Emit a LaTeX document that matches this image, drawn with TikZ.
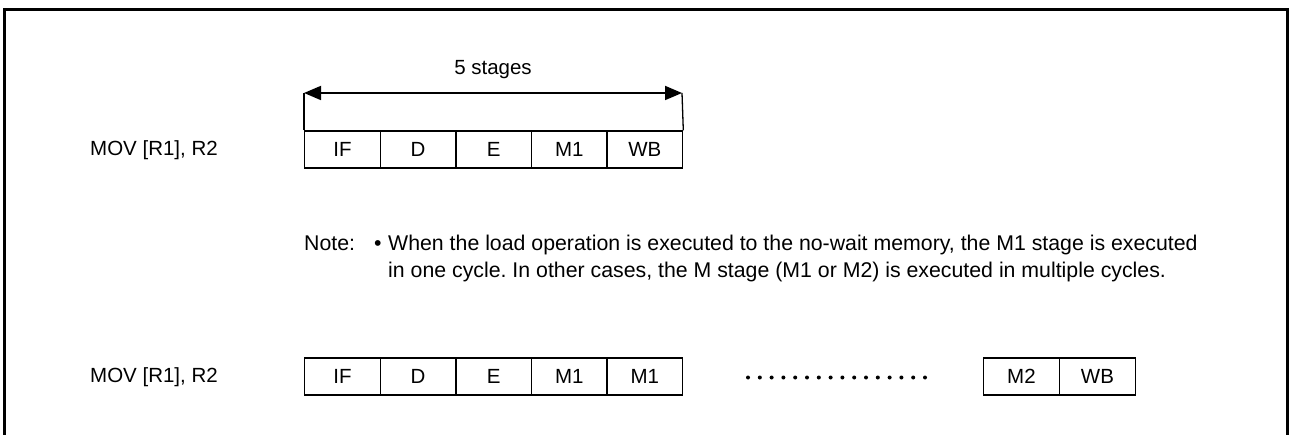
\documentclass[tikz,border=0pt]{standalone}
\usepackage{fontspec}
\setmainfont{Liberation Sans}
\usetikzlibrary{arrows.meta}
\frenchspacing
\begin{document}
\begin{tikzpicture}[x=1pt, y=-1pt,
		stage/.style={draw, line width=1.3pt, minimum width=75.6pt, minimum height=37pt,
			inner sep=0pt, anchor=west, font=\fontsize{20.5}{24}\selectfont},
		txt/.style={inner sep=0pt, font=\fontsize{20.5}{24}\selectfont},
		notetxt/.style={inner sep=0pt, anchor=base west, font=\fontsize{21.3}{25}\selectfont}]
	\useasboundingbox (0,0) rectangle (1289,435);
	\draw[line width=3pt] (4,435) -- (4,10) -- (1287,10) -- (1287,435);
	
	% upper pipeline
	\node[txt, anchor=west] (movA) at (90,150) {MOV [R1], R2};
	\foreach \n/\t [count=\i from 0] in {ifA/IF, dA/D, eA/E, mA/M1, wbA/WB}
		\node[stage] (\n) at (304+75.6*\i, 149.5) {\t};
	\coordinate (arrL) at (304,93);
	\coordinate (arrR) at (682,93);
	\draw[line width=1.3pt] (ifA.north west) -- (arrL);
	\draw[line width=1.3pt] (wbA.north east) -- (arrR);
	\draw[line width=1.8pt, {Triangle[length=17pt,width=14pt]}-{Triangle[length=17pt,width=14pt]}]
		(arrL) -- (arrR);
	\node[txt] (stages) at (493,70) {5 stages};
	
	% note
	\node[notetxt] (note) at (304,251) {Note:};
	\node[notetxt] (bul) at (374,251) {\textbullet};
	\node[notetxt] (lineA) at (388,251)
		{When the load operation is executed to the no-wait memory, the M1 stage is executed};
	\node[notetxt] (lineB) at (388,278)
		{in one cycle. In other cases, the M stage (M1 or M2) is executed in multiple cycles.};
	
	% lower pipeline
	\node[txt, anchor=west] (movB) at (90,377) {MOV [R1], R2};
	\foreach \n/\t [count=\i from 0] in {ifB/IF, dB/D, eB/E, mB/M1, mmB/M1}
		\node[stage] (\n) at (304+75.6*\i, 376.5) {\t};
	\foreach \k in {0,...,15}
		\fill (748+11.8*\k, 377.5) circle (2pt);
	\node[stage] (mtB) at (983,376.5) {M2};
	\node[stage] (wbB) at (1059,376.5) {WB};
\end{tikzpicture}
\end{document}
